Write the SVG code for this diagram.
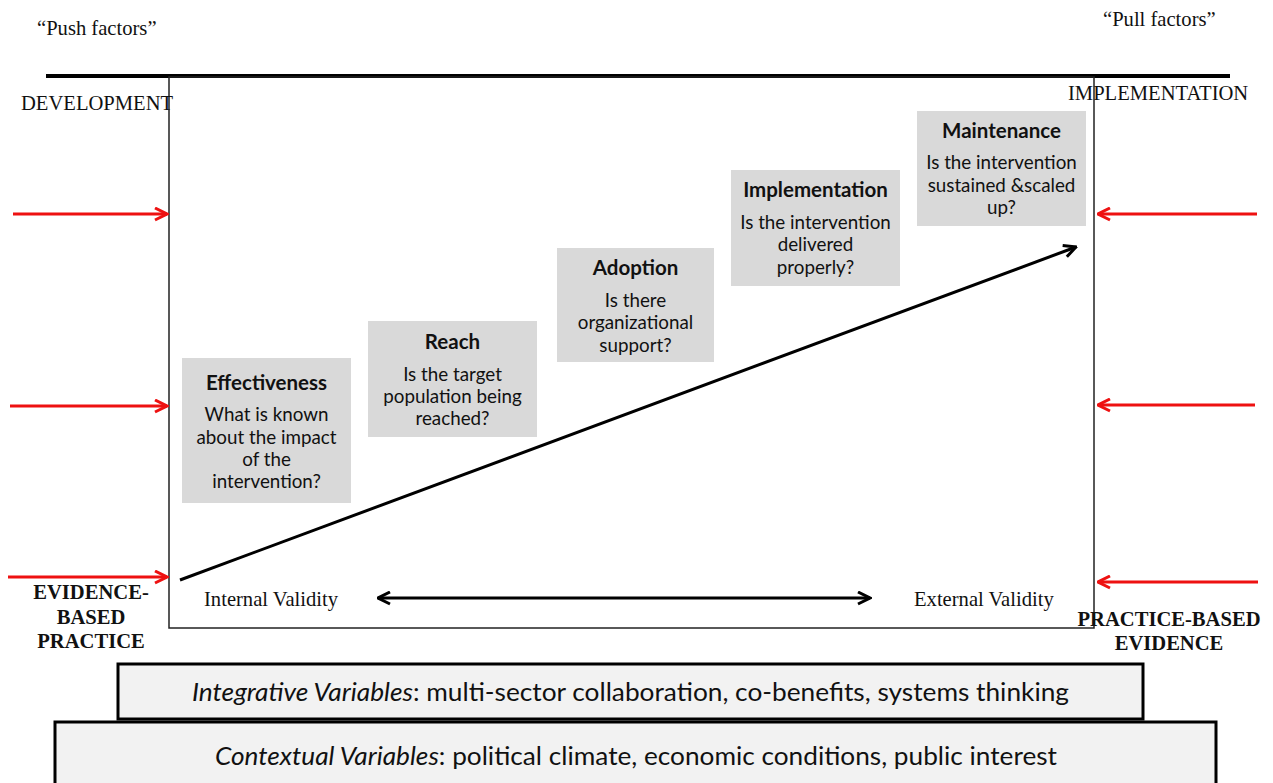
<svg xmlns="http://www.w3.org/2000/svg" width="1273" height="783" viewBox="0 0 1273 783">
<style>
.serif{font-family:"Liberation Serif","Times New Roman",serif;font-size:20.6px;fill:#111}
.bold{font-weight:bold}
.box{fill:#d9d9d9}
.bt{font-family:Lato,"Open Sans",sans-serif;font-size:18.8px;fill:#111;text-anchor:middle}
.bh{font-weight:bold;font-size:20.5px}
.red{stroke:#ee1111;stroke-width:3;fill:none}
.blk{stroke:#000;stroke-width:3;fill:none}
.band{fill:#f2f2f2;stroke:#000;stroke-width:3}
.bandt{font-family:Lato,"Open Sans",sans-serif;font-size:25px;fill:#111;text-anchor:middle}
</style>
<defs>
<marker id="ar" viewBox="0 0 10 10" refX="9" refY="5" markerWidth="5" markerHeight="5" orient="auto-start-reverse" markerUnits="strokeWidth"><path d="M1,1 L9,5 L1,9" fill="none" stroke="#ee1111" stroke-width="2"/></marker>
<marker id="ab" viewBox="0 0 10 10" refX="9" refY="5" markerWidth="5" markerHeight="5" orient="auto-start-reverse" markerUnits="strokeWidth"><path d="M1,1 L9,5 L1,9" fill="none" stroke="#000" stroke-width="2"/></marker>
</defs>
<g id="frame">
<line x1="46" y1="76" x2="1230" y2="76" stroke="#000" stroke-width="4"/>
<rect x="169" y="77" width="925" height="551" fill="none" stroke="#222" stroke-width="1.5"/>
</g>
<g id="labels">
<text class="serif" x="37" y="35">“Push factors”</text>
<text class="serif" x="1103" y="26">“Pull factors”</text>
<text class="serif" x="21" y="110">DEVELOPMENT</text>
<text class="serif" x="1068" y="100">IMPLEMENTATION</text>
<text class="serif bold" text-anchor="middle"><tspan x="91" y="599">EVIDENCE-</tspan><tspan x="91" y="624">BASED</tspan><tspan x="91" y="648">PRACTICE</tspan></text>
<text class="serif bold" text-anchor="middle"><tspan x="1169" y="626">PRACTICE-BASED</tspan><tspan x="1169" y="650">EVIDENCE</tspan></text>
<text class="serif" x="204" y="606">Internal Validity</text>
<text class="serif" x="914" y="606">External Validity</text>
</g>
<g id="effectiveness">
<rect class="box" x="182" y="358" width="169" height="145"/>
<text class="bt"><tspan class="bh" x="266.5" y="390">Effectiveness</tspan><tspan x="266.5" y="421">What is known</tspan><tspan x="266.5" y="444">about the impact</tspan><tspan x="266.5" y="466">of the</tspan><tspan x="266.5" y="488">intervention?</tspan></text>
</g>
<g id="reach">
<rect class="box" x="368" y="321" width="169" height="116"/>
<text class="bt"><tspan class="bh" x="452.5" y="349">Reach</tspan><tspan x="452.5" y="381">Is the target</tspan><tspan x="452.5" y="403">population being</tspan><tspan x="452.5" y="425">reached?</tspan></text>
</g>
<g id="adoption">
<rect class="box" x="557" y="248" width="157" height="114"/>
<text class="bt"><tspan class="bh" x="635.5" y="275">Adoption</tspan><tspan x="635.5" y="307">Is there</tspan><tspan x="635.5" y="329">organizational</tspan><tspan x="635.5" y="352">support?</tspan></text>
</g>
<g id="implementation">
<rect class="box" x="731" y="170" width="169" height="116"/>
<text class="bt"><tspan class="bh" x="815.5" y="197">Implementation</tspan><tspan x="815.5" y="229">Is the intervention</tspan><tspan x="815.5" y="251">delivered</tspan><tspan x="815.5" y="274">properly?</tspan></text>
</g>
<g id="maintenance">
<rect class="box" x="917" y="111" width="169" height="115"/>
<text class="bt"><tspan class="bh" x="1001.5" y="138">Maintenance</tspan><tspan x="1001.5" y="169">Is the intervention</tspan><tspan x="1001.5" y="192">sustained &amp;scaled</tspan><tspan x="1001.5" y="214">up?</tspan></text>
</g>
<g id="integrative">
<rect class="band" x="118" y="664" width="1025" height="55"/>
<text class="bandt" x="630.5" y="701" textLength="877" lengthAdjust="spacingAndGlyphs"><tspan font-style="italic">Integrative Variables</tspan>: multi-sector collaboration, co-benefits, systems thinking</text>
</g>
<g id="contextual">
<rect class="band" x="55" y="722" width="1161" height="70"/>
<text class="bandt" x="636" y="765" textLength="842" lengthAdjust="spacingAndGlyphs"><tspan font-style="italic">Contextual Variables</tspan>: political climate, economic conditions, public interest</text>
</g>
<g id="connectors">
<line class="blk" x1="180" y1="580" x2="1076" y2="247" marker-end="url(#ab)"/>
<line class="blk" x1="378" y1="598" x2="870" y2="598" stroke-width="2.5" marker-start="url(#ab)" marker-end="url(#ab)"/>
<line class="red" x1="13" y1="214" x2="167" y2="214" marker-end="url(#ar)"/>
<line class="red" x1="10" y1="406" x2="167" y2="406" marker-end="url(#ar)"/>
<line class="red" x1="8" y1="577" x2="167" y2="577" marker-end="url(#ar)"/>
<line class="red" x1="1257" y1="214" x2="1098" y2="214" marker-end="url(#ar)"/>
<line class="red" x1="1255" y1="405" x2="1098" y2="405" marker-end="url(#ar)"/>
<line class="red" x1="1258" y1="582" x2="1098" y2="582" marker-end="url(#ar)"/>
</g>
</svg>
